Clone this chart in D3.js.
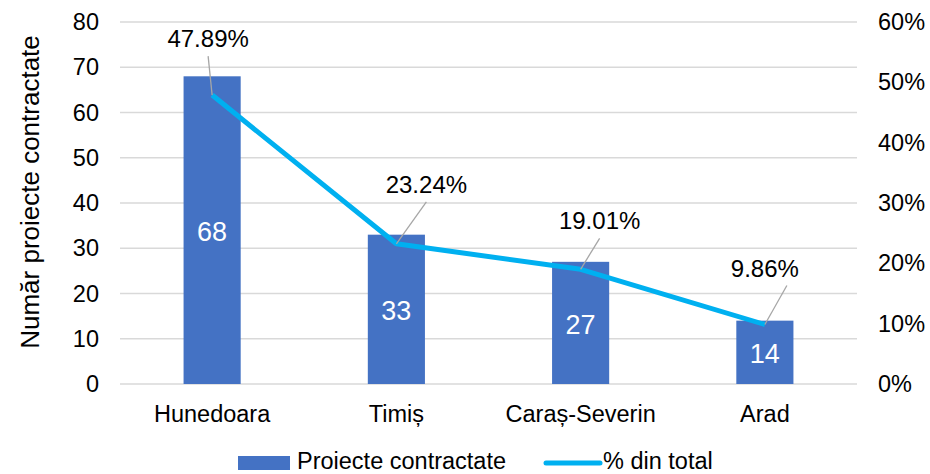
<!DOCTYPE html>
<html><head><meta charset="utf-8">
<script src="https://cdn.jsdelivr.net/npm/d3@7"></script>
<style>body{margin:0;background:#fff;} text{font-family:"Liberation Sans",Arial,sans-serif;}</style>
</head><body>
<svg id="c" width="930" height="474"></svg>
<script>
const categories = ["Hunedoara", "Timiș", "Caraș-Severin", "Arad"];
const projects = [68, 33, 27, 14];
const shares = [0.4789, 0.2324, 0.1901, 0.0986];
const leftTicks = [0, 10, 20, 30, 40, 50, 60, 70, 80];
const rightTicks = [0, 0.1, 0.2, 0.3, 0.4, 0.5, 0.6];
const seriesNames = ["Proiecte contractate", "% din total"];
const yTitle = "Număr proiecte contractate";

// layout: label offsets for percentage labels (pixels from point)
const labelOffsets = [[-4, -48], [30, -51], [19, -40], [0, -48]];
const leaderStart = [[-4, -39], [30, -42], [19, -31], [22, -39]];

const FONT = '"Liberation Sans",Arial,sans-serif';
const svg = d3.select("#c");
const L = 120, R = 857, T = 22, B = 384;
const x = d3.scaleBand().domain(categories).range([L, R]).paddingInner(0.69).paddingOuter(0.345);
const y = d3.scaleLinear().domain([0, 80]).range([B, T]);
const y2 = d3.scaleLinear().domain([0, 0.6]).range([B, T]);

// gridlines
svg.append("g").selectAll("line").data(leftTicks).join("line")
  .attr("x1", L).attr("x2", R).attr("y1", d => y(d)).attr("y2", d => y(d))
  .attr("stroke", "#d9d9d9").attr("stroke-width", 1.3);

// left axis
const ga = svg.append("g").attr("transform", `translate(${L},0)`)
  .call(d3.axisLeft(y).tickValues(leftTicks).tickSize(0).tickPadding(21));
ga.select(".domain").remove();
ga.selectAll("text").attr("font-size", 23.5).attr("fill", "#000").attr("font-family", FONT);

// right axis
const gr = svg.append("g").attr("transform", `translate(${R},0)`)
  .call(d3.axisRight(y2).tickValues(rightTicks).tickSize(0).tickPadding(21).tickFormat(d3.format(".0%")));
gr.select(".domain").remove();
gr.selectAll("text").attr("font-size", 23.5).attr("fill", "#000").attr("font-family", FONT);

// x axis labels
const gx = svg.append("g").attr("transform", `translate(0,${B})`)
  .call(d3.axisBottom(x).tickSize(0).tickPadding(21));
gx.select(".domain").remove();
gx.selectAll("text").attr("font-size", 23.5).attr("fill", "#000").attr("font-family", FONT);

// y title
svg.append("text").attr("transform", `translate(39,192) rotate(-90)`)
  .attr("text-anchor", "middle").attr("font-size", 26).attr("fill", "#000").text(yTitle);

// bars
svg.append("g").selectAll("rect").data(projects).join("rect")
  .attr("x", (d, i) => x(categories[i])).attr("width", x.bandwidth())
  .attr("y", d => y(d)).attr("height", d => y(0) - y(d)).attr("fill", "#4472C4");

svg.append("g").selectAll("text").data(projects).join("text")
  .attr("x", (d, i) => x(categories[i]) + x.bandwidth() / 2)
  .attr("y", d => (y(d) + y(0)) / 2 + 11)
  .attr("text-anchor", "middle").attr("font-size", 27).attr("fill", "#fff").text(d => d);

// line
const px = i => x(categories[i]) + x.bandwidth() / 2;
svg.append("path").datum(shares)
  .attr("d", d3.line().x((d, i) => px(i)).y(d => y2(d)))
  .attr("fill", "none").attr("stroke", "#00B0F0").attr("stroke-width", 5).attr("stroke-linejoin", "round");

// leader lines
svg.append("g").selectAll("line").data(shares).join("line")
  .attr("x1", (d, i) => px(i) + leaderStart[i][0]).attr("y1", (d, i) => y2(d) + leaderStart[i][1])
  .attr("x2", (d, i) => px(i)).attr("y2", d => y2(d))
  .attr("stroke", "#a6a6a6").attr("stroke-width", 1.3);

// percent labels
svg.append("g").selectAll("text").data(shares).join("text")
  .attr("x", (d, i) => px(i) + labelOffsets[i][0]).attr("y", (d, i) => y2(d) + labelOffsets[i][1])
  .attr("text-anchor", "middle").attr("font-size", 24).attr("fill", "#000")
  .text(d => d3.format(".2%")(d));

// legend
const lg = svg.append("g");
lg.append("rect").attr("x", 238).attr("y", 456).attr("width", 52).attr("height", 14).attr("fill", "#4472C4");
lg.append("text").attr("x", 297).attr("y", 469).attr("font-size", 23.5).attr("fill", "#000").text(seriesNames[0]);
lg.append("line").attr("x1", 546).attr("x2", 600).attr("y1", 463).attr("y2", 463)
  .attr("stroke", "#00B0F0").attr("stroke-width", 5).attr("stroke-linecap", "round");
lg.append("text").attr("x", 603).attr("y", 469).attr("font-size", 23.5).attr("fill", "#000").text(seriesNames[1]);
</script>
</body></html>
